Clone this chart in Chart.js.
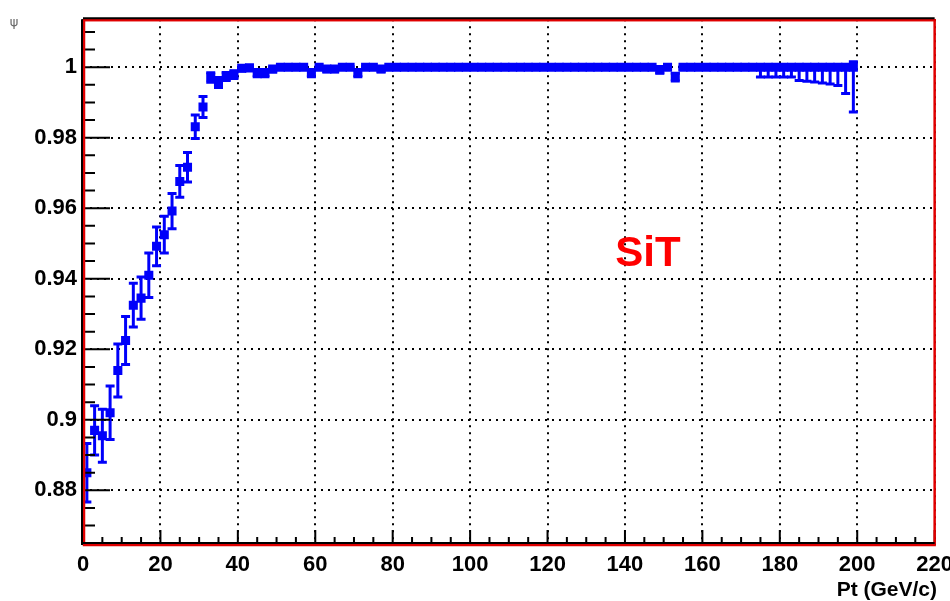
<!DOCTYPE html>
<html>
<head>
<meta charset="utf-8">
<script src="https://cdn.jsdelivr.net/npm/chart.js@4/dist/chart.umd.min.js"></script>
<style>
  html, body { margin: 0; padding: 0; background: #fff; overflow: hidden; }
  #wrap { width: 960px; height: 601px; position: relative; }
</style>
</head>
<body>
<div id="wrap"><canvas id="eff"></canvas></div>
<script>
// bin centres (GeV/c), 2 GeV bins
const ptBins = [
  1, 3, 5, 7, 9, 11, 13, 15, 17, 19, 21, 23, 25, 27, 29, 31, 33, 35, 37, 39,
  41, 43, 45, 47, 49, 51, 53, 55, 57, 59, 61, 63, 65, 67, 69, 71, 73, 75, 77, 79,
  81, 83, 85, 87, 89, 91, 93, 95, 97, 99, 101, 103, 105, 107, 109, 111, 113, 115, 117, 119,
  121, 123, 125, 127, 129, 131, 133, 135, 137, 139, 141, 143, 145, 147, 149, 151, 153, 155, 157, 159,
  161, 163, 165, 167, 169, 171, 173, 175, 177, 179, 181, 183, 185, 187, 189, 191, 193, 195, 197, 199
];
const efficiency = [
  0.885, 0.897, 0.8955, 0.902, 0.914, 0.9225, 0.9325, 0.9345, 0.941, 0.9492,
  0.9525, 0.9592, 0.9676, 0.9716, 0.9831, 0.9887, 0.9972, 0.9958, 0.9975, 0.998,
  0.9997, 0.9998, 0.9985, 0.9985, 0.9995, 1, 1, 1, 1, 0.9985,
  1, 0.9995, 0.9995, 1, 1, 0.9985, 1, 1, 0.9995, 1,
  1, 1, 1, 1, 1, 1, 1, 1, 1, 1,
  1, 1, 1, 1, 1, 1, 1, 1, 1, 1,
  1, 1, 1, 1, 1, 1, 1, 1, 1, 1,
  1, 1, 1, 1, 0.9993, 1, 0.9973, 1, 1, 1,
  1, 1, 1, 1, 1, 1, 1, 1, 1, 1,
  1, 1, 1, 1, 1, 1, 1, 1, 1, 1
];
const errLow = [
  0.0083, 0.007, 0.0075, 0.0076, 0.0075, 0.0068, 0.0062, 0.006, 0.0063, 0.0055,
  0.0052, 0.005, 0.0045, 0.0042, 0.0033, 0.003, 0.0015, 0.0016, 0.0013, 0.0012,
  0.0008, 0.0007, 0.0012, 0.0012, 0.0009, 0.0006, 0.0006, 0.0006, 0.0006, 0.0012,
  0.0006, 0.0008, 0.0008, 0.0006, 0.0006, 0.0012, 0.0006, 0.0006, 0.0008, 0.0006,
  0.0006, 0.0006, 0.0006, 0.0006, 0.0006, 0.0006, 0.0006, 0.0006, 0.0006, 0.0006,
  0.0006, 0.0006, 0.0006, 0.0006, 0.0006, 0.0006, 0.0006, 0.0006, 0.0006, 0.0006,
  0.0006, 0.0006, 0.0006, 0.0006, 0.0006, 0.0006, 0.0006, 0.0006, 0.0006, 0.0006,
  0.0006, 0.0006, 0.0006, 0.0006, 0.001, 0.0006, 0.0012, 0.0006, 0.0006, 0.0006,
  0.0006, 0.0006, 0.0006, 0.0006, 0.0006, 0.0006, 0.0006, 0.0028, 0.0028, 0.0028,
  0.0028, 0.0028, 0.0038, 0.004, 0.0042, 0.0045, 0.0048, 0.0052, 0.0075, 0.0127
];
const errHigh = [
  0.0083, 0.007, 0.0075, 0.0076, 0.0075, 0.0068, 0.0062, 0.006, 0.0063, 0.0055,
  0.0052, 0.005, 0.0045, 0.0042, 0.0033, 0.003, 0.0012, 0.0013, 0.001, 0.001,
  0.0003, 0.0002, 0.0008, 0.0008, 0.0004, 0.0001, 0.0001, 0.0001, 0.0001, 0.0008,
  0.0001, 0.0004, 0.0004, 0.0001, 0.0001, 0.0008, 0.0001, 0.0001, 0.0004, 0.0001,
  0.0001, 0.0001, 0.0001, 0.0001, 0.0001, 0.0001, 0.0001, 0.0001, 0.0001, 0.0001,
  0.0001, 0.0001, 0.0001, 0.0001, 0.0001, 0.0001, 0.0001, 0.0001, 0.0001, 0.0001,
  0.0001, 0.0001, 0.0001, 0.0001, 0.0001, 0.0001, 0.0001, 0.0001, 0.0001, 0.0001,
  0.0001, 0.0001, 0.0001, 0.0001, 0.0005, 0.0001, 0.001, 0.0001, 0.0001, 0.0001,
  0.0001, 0.0001, 0.0001, 0.0001, 0.0001, 0.0001, 0.0001, 0.0001, 0.0001, 0.0001,
  0.0001, 0.0001, 0.0001, 0.0001, 0.0001, 0.0001, 0.0001, 0.0001, 0.0001, 0.0015
];
const xTickStep = 20;
const yTickStep = 0.02;
const xAxisTitle = 'Pt (GeV/c)';
const yAxisTitle = 'ψ';
const detectorLabel = 'SiT';

const blue = 'rgb(0,0,250)';
const tickFont = { family: '"Liberation Sans", Arial, sans-serif', size: 22, weight: 'bold' };

const points = ptBins.map((x, i) => ({ x: x, y: efficiency[i], lo: errLow[i], hi: errHigh[i] }));

// vertical error bars with caps
const errorBars = {
  id: 'errorBars',
  beforeDatasetsDraw(chart) {
    const ctx = chart.ctx;
    const xs = chart.scales.x, ys = chart.scales.y;
    const area = chart.chartArea;
    ctx.save();
    ctx.beginPath();
    ctx.rect(area.left, area.top, area.right - area.left, area.bottom - area.top);
    ctx.clip();
    ctx.strokeStyle = blue;
    ctx.lineWidth = 3;
    points.forEach(p => {
      const px = xs.getPixelForValue(p.x);
      const top = ys.getPixelForValue(p.y + p.hi);
      const bot = ys.getPixelForValue(p.y - p.lo);
      ctx.beginPath();
      ctx.moveTo(px, top); ctx.lineTo(px, bot);
      ctx.moveTo(px - 4.5, top); ctx.lineTo(px + 4.5, top);
      ctx.moveTo(px - 4.5, bot); ctx.lineTo(px + 4.5, bot);
      ctx.stroke();
    });
    ctx.restore();
  }
};

// ROOT-like frame, inner tick marks and labels
const frameDecor = {
  id: 'frameDecor',
  afterDraw(chart) {
    const ctx = chart.ctx;
    const a = chart.chartArea;
    const xs = chart.scales.x, ys = chart.scales.y;
    ctx.save();

    // tick marks pointing into the frame
    ctx.strokeStyle = '#000';
    ctx.lineWidth = 2;
    ctx.beginPath();
    for (let v = 0; v <= 220.001; v += 5) {
      const px = xs.getPixelForValue(v);
      const len = Math.abs(v % 20) < 0.001 ? 15 : 8;
      ctx.moveTo(px, a.bottom); ctx.lineTo(px, a.bottom - len);
    }
    const yStart = Math.ceil(ys.min / 0.005) * 0.005;
    for (let v = yStart; v <= ys.max; v += 0.005) {
      const py = ys.getPixelForValue(v);
      const major = Math.abs(Math.round(v / 0.02) * 0.02 - v) < 1e-6;
      ctx.moveTo(a.left, py); ctx.lineTo(a.left + (major ? 27 : 12), py);
    }
    ctx.stroke();

    // frame
    ctx.strokeStyle = '#e00000';
    ctx.lineWidth = 2.5;
    ctx.strokeRect(a.left + 1, a.top + 1, a.right - a.left - 1, a.bottom - a.top - 1);
    ctx.strokeStyle = '#000';
    ctx.lineWidth = 2;
    ctx.beginPath();
    ctx.moveTo(a.left - 1, a.top); ctx.lineTo(a.left - 1, a.bottom);
    ctx.moveTo(a.left, a.top - 1); ctx.lineTo(a.right, a.top - 1);
    ctx.moveTo(a.left, a.bottom - 2); ctx.lineTo(a.right, a.bottom - 2);
    ctx.stroke();

    // axis titles
    ctx.fillStyle = '#000';
    ctx.font = 'bold 21px "Liberation Sans", Arial, sans-serif';
    ctx.textAlign = 'right';
    ctx.textBaseline = 'alphabetic';
    ctx.fillText(xAxisTitle, 937, 596);

    ctx.fillStyle = '#666';
    ctx.font = '13px "DejaVu Sans", sans-serif';
    ctx.textAlign = 'center';
    ctx.fillText(yAxisTitle, 14, 26);

    // detector label
    ctx.fillStyle = '#ff0000';
    ctx.font = 'bold 42px "Liberation Sans", Arial, sans-serif';
    ctx.textAlign = 'left';
    ctx.fillText(detectorLabel, xs.getPixelForValue(137.5), ys.getPixelForValue(0.9437));
    ctx.restore();
  }
};

new Chart(document.getElementById('eff'), {
  type: 'scatter',
  data: {
    datasets: [{
      data: points,
      pointStyle: 'rect',
      pointRadius: 6.4,
      pointHoverRadius: 6.4,
      backgroundColor: blue,
      borderColor: blue,
      borderWidth: 0
    }]
  },
  options: {
    responsive: true,
    maintainAspectRatio: false,
    animation: false,
    layout: { padding: { top: 15, right: 19, left: 0, bottom: 0 } },
    plugins: { legend: { display: false }, tooltip: { enabled: false } },
    scales: {
      x: {
        type: 'linear',
        min: 0,
        max: 220,
        afterFit: s => { s.height = 56; },
        ticks: { stepSize: xTickStep, color: '#000', font: tickFont, padding: 7, maxRotation: 0 },
        grid: { color: '#000', lineWidth: 2, drawTicks: false },
        border: { display: false, dash: [2, 5] }
      },
      y: {
        type: 'linear',
        min: 0.8645,
        max: 1.0136,
        afterFit: s => { s.width = 83; },
        ticks: {
          stepSize: yTickStep,
          includeBounds: false,
          color: '#000',
          font: tickFont,
          padding: 6,
          callback: v => String(+v.toFixed(3))
        },
        grid: { color: '#000', lineWidth: 2, drawTicks: false },
        border: { display: false, dash: [2, 5] }
      }
    }
  },
  plugins: [errorBars, frameDecor]
});
</script>
</body>
</html>
